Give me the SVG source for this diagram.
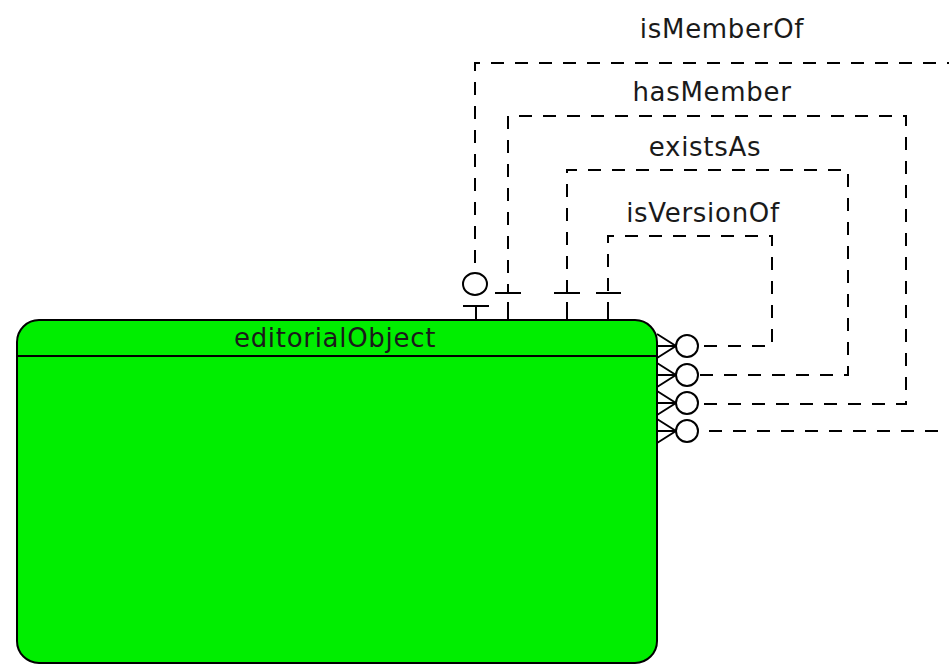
<svg xmlns="http://www.w3.org/2000/svg" width="949" height="665" viewBox="0 0 949 665">
<style>
.lbl{font-family:"DejaVu Sans",sans-serif;font-size:26px;letter-spacing:0.7px;fill:#1a1a1a;text-anchor:middle}
.dash{fill:none;stroke:#000;stroke-width:2;stroke-dasharray:13 11}
.solid{fill:none;stroke:#000;stroke-width:2}
.circ{fill:#fff;stroke:#000;stroke-width:2}
</style>
<rect width="949" height="665" fill="#fff"/>
<g id="connectors">
  <g id="isVersionOf">
    <path class="dash" d="M704,346 H772 V236 H608 V293"/>
    <text class="lbl" x="703" y="222">isVersionOf</text>
  </g>
  <g id="existsAs">
    <path class="dash" d="M700,375 H848 V170 H567 V293"/>
    <text class="lbl" x="705" y="156">existsAs</text>
  </g>
  <g id="hasMember">
    <path class="dash" d="M704,404 H906 V116 H508 V293"/>
    <text class="lbl" x="712" y="101">hasMember</text>
  </g>
  <g id="isMemberOf">
    <path class="dash" d="M709,431 H960 M960,63 H475 V273"/>
    <text class="lbl" x="722" y="38">isMemberOf</text>
  </g>
  <g id="ends-top">
    <path class="solid" d="M596,293 H621 M608,302 V320 M554,293 H580 M567,302 V320 M495,293 H521 M508,302 V320 M463,306 H489 M476,306 V320"/>
    <ellipse class="circ" cx="475" cy="284" rx="12" ry="11"/>
  </g>
</g>
<g id="editorialObject">
  <rect x="17" y="320" width="640" height="343" rx="22" ry="22" fill="#00ee00" stroke="#000" stroke-width="2"/>
  <line x1="17" y1="356" x2="657" y2="356" stroke="#000" stroke-width="2"/>
  <text class="lbl" x="335" y="347">editorialObject</text>
  <g id="ends-right">
    <path class="solid" d="M657,334 L676,346 M657,346 H676 M657,358 L676,346 M657,363 L676,375 M657,375 H676 M657,387 L676,375 M657,391 L676,403 M657,403 H676 M657,415 L676,403 M657,419 L676,431 M657,431 H676 M657,443 L676,431"/>
    <ellipse class="circ" cx="687" cy="346" rx="11" ry="11"/>
    <ellipse class="circ" cx="687" cy="375" rx="11" ry="11"/>
    <ellipse class="circ" cx="687" cy="403" rx="11" ry="11"/>
    <ellipse class="circ" cx="687" cy="431" rx="11" ry="11"/>
  </g>
</g>
</svg>
